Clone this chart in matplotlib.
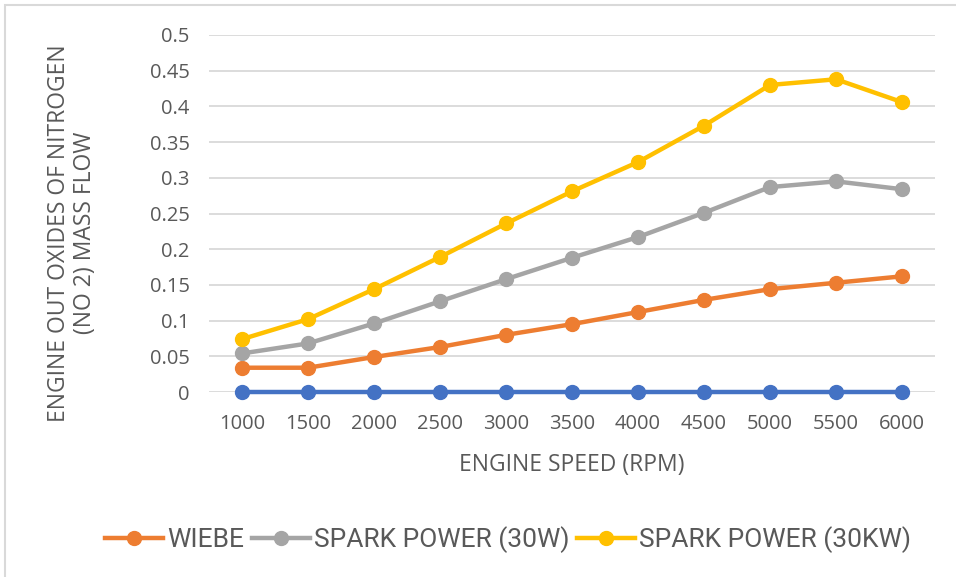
import matplotlib.pyplot as plt
from matplotlib.patches import Rectangle

rpm = ["1000", "1500", "2000", "2500", "3000", "3500",
       "4000", "4500", "5000", "5500", "6000"]
baseline = [0, 0, 0, 0, 0, 0, 0, 0, 0, 0, 0]
wiebe = [0.034, 0.034, 0.049, 0.063, 0.080, 0.095, 0.112, 0.129, 0.144, 0.153, 0.162]
spark_30w = [0.054, 0.068, 0.096, 0.127, 0.158, 0.188, 0.217, 0.251, 0.287, 0.295, 0.284]
spark_30kw = [0.074, 0.102, 0.144, 0.189, 0.236, 0.281, 0.322, 0.373, 0.430, 0.438, 0.406]

text_color = "#595959"
plt.rcParams["font.family"] = ["Open Sans", "DejaVu Sans"]

W, H = 956, 577
fig = plt.figure(figsize=(W / 100, H / 100), dpi=100)
ax = fig.add_axes([209 / W, 1 - 392 / H, 726 / W, 357 / H])

# chart area border
fig.patches.append(Rectangle((5 / W, -0.1), 1.2, 1 - 5 / H + 0.1,
                             transform=fig.transFigure, fill=False,
                             edgecolor="#D9D9D9", linewidth=1.5))

x = range(len(rpm))
style = dict(linewidth=3.2, marker="o", markersize=10, clip_on=False, zorder=3)
ax.plot(x, baseline, color="#4472C4", label="_nolegend_", **style)
ax.plot(x, wiebe, color="#ED7D31", label="WIEBE", **style)
ax.plot(x, spark_30w, color="#A5A5A5", label="SPARK POWER (30W)", **style)
ax.plot(x, spark_30kw, color="#FFC000", label="SPARK POWER (30KW)", **style)

ax.set_xlim(-0.5, len(rpm) - 0.5)
ax.set_ylim(0, 0.5)
ax.set_xticks(list(x))
ax.set_xticklabels(rpm)
ax.set_yticks([i * 0.05 for i in range(11)])
ax.set_yticklabels(["0", "0.05", "0.1", "0.15", "0.2", "0.25", "0.3",
                    "0.35", "0.4", "0.45", "0.5"])
ax.grid(axis="y", color="#D9D9D9", linewidth=1.3)
ax.set_axisbelow(True)
for s in ax.spines.values():
    s.set_visible(False)
ax.tick_params(length=0, labelsize=14.5, colors=text_color)
ax.tick_params(axis="y", pad=14)
ax.tick_params(axis="x", pad=16)

fig.text(572 / W, 1 - 465 / H, "ENGINE SPEED (RPM)", fontsize=16.5,
         color=text_color, ha="center", va="center")
fig.text(72 / W, 1 - 233 / H, "ENGINE OUT OXIDES OF NITROGEN\n(NO 2) MASS FLOW",
         fontsize=16.5, color=text_color, ha="center", va="center",
         rotation=90, linespacing=1.15, multialignment="center")

leg = fig.legend(loc="center", bbox_to_anchor=(508 / W, 1 - 540 / H), ncol=3,
                 frameon=False, prop={"family": "Roboto", "size": 19},
                 handlelength=2.2, columnspacing=0.3, handletextpad=0.15)
for t in leg.get_texts():
    t.set_color(text_color)

fig.savefig("out.png", dpi=100)
